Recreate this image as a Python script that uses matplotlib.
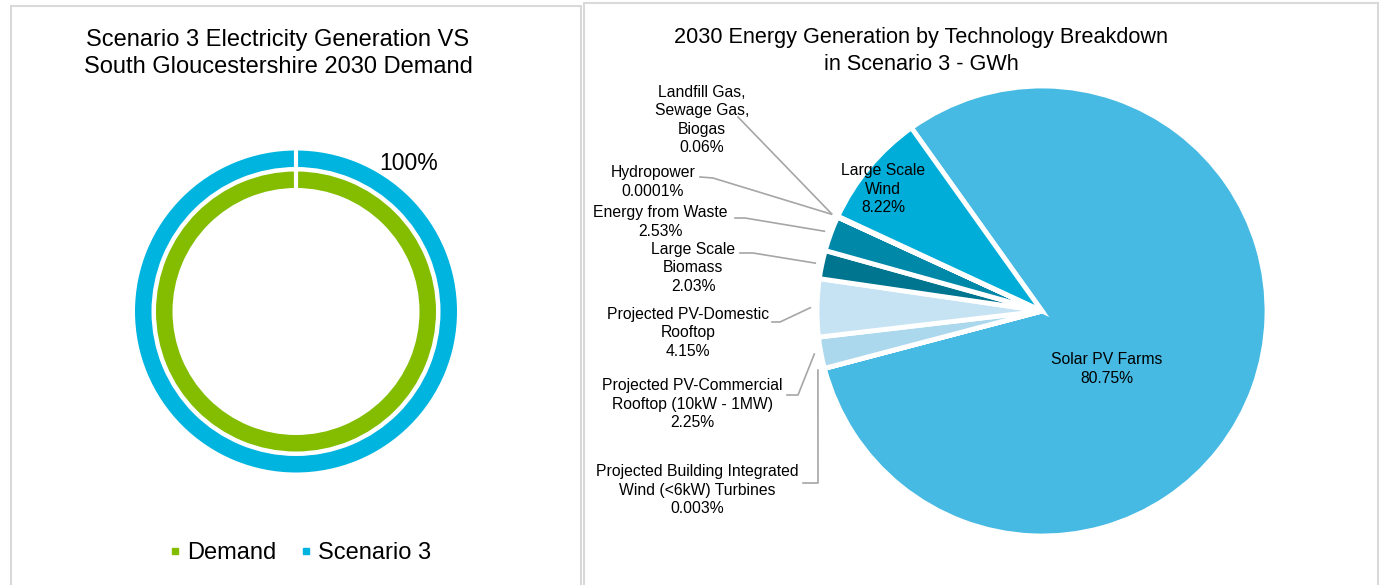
import numpy as np
import matplotlib.pyplot as plt
from matplotlib.lines import Line2D
from matplotlib.patches import Rectangle

plt.rcParams['font.family'] = ['Liberation Sans', 'DejaVu Sans']

W, H = 1383, 585

# ring chart: 2030 generation against demand
ring_names = ['Demand', 'Scenario 3']
ring_values = [100, 100]
ring_colors = ['#84BD00', '#00B4E0']

# 2030 generation by technology, % of total GWh
tech_names = ['Solar PV Farms',
              'Projected Building Integrated\nWind (<6kW) Turbines',
              'Projected PV-Commercial\nRooftop (10kW - 1MW)',
              'Projected PV-Domestic\nRooftop',
              'Large Scale\nBiomass',
              'Energy from Waste',
              'Hydropower',
              'Landfill Gas,\nSewage Gas,\nBiogas',
              'Large Scale\nWind']
tech_share = [80.75, 0.003, 2.25, 4.15, 2.03, 2.53, 0.0001, 0.06, 8.22]
tech_colors = ['#46BAE3', '#8FD0EC', '#ACD8EE', '#C6E3F3', '#00758F',
               '#0088A9', '#0099BF', '#00A2C8', '#00ADD8']


def Y(y):
    # pixel rows are counted from the top of the image
    return H - y


fig = plt.figure(figsize=(W / 100, H / 100), dpi=100)
ax = fig.add_axes([0, 0, 1, 1])

# --- left panel: doughnut ---
cx1, cy1 = 296, Y(311.5)
ring_radii = [140, 161]
ring_w = 16.5
for val, col, rad in zip(ring_values, ring_colors, ring_radii):
    ax.pie([val], colors=[col], radius=rad, center=(cx1, cy1), startangle=90,
           counterclock=False, wedgeprops=dict(width=ring_w, linewidth=0))
# series start marker at 12 o'clock
ax.plot([cx1, cx1], [cy1 + ring_radii[0] - ring_w - 3, cy1 + ring_radii[1] + 3],
        color='white', lw=3, solid_capstyle='butt')
ax.text(409, Y(163), '%d%%' % ring_values[1], fontsize=16.5, ha='center', va='center')

ax.text(278, Y(73), 'Scenario 3 Electricity Generation VS\nSouth Gloucestershire 2030 Demand',
        fontsize=17, ha='center', va='baseline', linespacing=1.32)

handles = [Line2D([], [], ls='', marker='s', markersize=5, color=c) for c in ring_colors]
fig.legend(handles, ring_names, loc='center', bbox_to_anchor=(300 / W, 1 - 553 / H),
           ncol=2, frameon=False, fontsize=17, handlelength=0.5, handletextpad=0.25,
           columnspacing=1.0)

# --- right panel: technology pie ---
cx2, cy2, r2 = 1042, Y(311), 225
wedges, _ = ax.pie(tech_share, colors=tech_colors, radius=r2, center=(cx2, cy2),
                   startangle=125.5, counterclock=False,
                   wedgeprops=dict(edgecolor='white', linewidth=3.5))

ax.text(921, Y(70), '2030 Energy Generation by Technology Breakdown\nin Scenario 3 - GWh',
        fontsize=15.6, ha='center', va='baseline', linespacing=1.36)

# label block centre and leader elbow points (pixels from top)
outside = {
    1: (697, 490, [(803, 483), (818, 483)]),
    2: (692, 404, [(787, 395), (798, 395)]),
    3: (688, 333, [(772, 322), (780, 322)]),
    4: (693, 268, [(740, 253), (753, 253)]),
    5: (660, 222, [(735, 218), (745, 218)]),
    6: (653, 182, [(700, 177), (713, 178)]),
    7: (702, 120, [(738, 117)]),
}
inside = {0: (1107, 369), 8: (883, 189)}

for i, (name, share, w) in enumerate(zip(tech_names, tech_share, wedges)):
    label = '%s\n%g%%' % (name, share)
    if i in inside:
        tx, ty = inside[i]
        ax.text(tx, Y(ty), label, fontsize=11.3, ha='center', va='center', linespacing=1.3)
        continue
    tx, ty, elbow = outside[i]
    ax.text(tx, Y(ty), label, fontsize=11.3, ha='center', va='center', linespacing=1.3)
    mid = np.deg2rad((w.theta1 + w.theta2) / 2)
    end = (cx2 + 1.03 * r2 * np.cos(mid), cy2 + 1.03 * r2 * np.sin(mid))
    xs = [p[0] for p in elbow] + [end[0]]
    ys = [Y(p[1]) for p in elbow] + [end[1]]
    ax.plot(xs, ys, color='#A6A6A6', lw=1.2)

# panel frames
ax.add_patch(Rectangle((11, -5), 570, Y(6) + 5, fill=False, ec='#D9D9D9', lw=1.5))
ax.add_patch(Rectangle((584, -5), 794, Y(3) + 5, fill=False, ec='#D9D9D9', lw=1.5))

ax.set_xlim(0, W)
ax.set_ylim(0, H)
ax.set_aspect('auto')
ax.axis('off')

fig.savefig('out.png', dpi=100)
